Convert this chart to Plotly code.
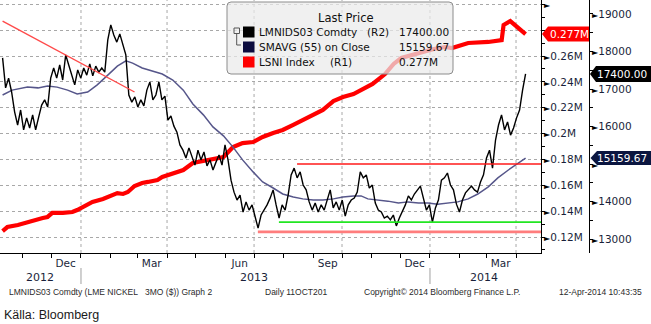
import plotly.graph_objects as go
import pandas as pd

# ---------------- data ----------------
price_first_day = "2012-10-11"
price_last_day = "2014-04-11"
# LMNIDS03 Comdty, read every ~3 days (high / low of the daily bars alternately)
price_close = [
    17830, 17030, 17290, 16920, 16390, 16040, 16440, 15910, 16230, 15960,
    16310, 15910, 16250, 16570, 16710, 16520, 17290, 17560, 17290, 17640,
    17240, 17910, 17640, 17370, 17110, 17510, 17290, 17560, 17370, 17670,
    17350, 17610, 17450, 17560, 17450, 18310, 18710, 18440, 18250, 18470,
    18200, 17910, 16840, 16650, 16790, 16520, 16710, 16550, 16970, 17190,
    16710, 16840, 17190, 16710, 16810, 16170, 16280, 16010, 15850, 15510,
    15370, 15160, 15430, 15210, 14970, 15370, 15110, 15320, 14950, 15110,
    14840, 15050, 15240, 14970, 15510, 15110, 14570, 14250, 14040, 14170,
    13720, 13990, 13770, 13910, 13560, 13290, 13640, 13770, 13910, 14090,
    14310, 13910, 13560, 13910, 13770, 14170, 14710, 14890, 14630, 14790,
    14440, 14310, 13990, 13770, 13960, 13720, 13910, 13770, 14040, 14310,
    13830, 13990, 13770, 14040, 13610, 13910, 14040, 14090, 14250, 14790,
    14630, 14710, 14360, 14440, 13960, 13770, 13720, 13560, 13610, 13510,
    13640, 13350, 13560, 13720, 13910, 14150, 14040, 14200, 14310, 14410,
    14090, 13770, 13910, 13450, 13830, 14040, 14570, 14630, 14760, 14440,
    14310, 13930, 13720, 14040, 14230, 14310, 14410, 14310, 14250, 14520,
    14710, 15160, 15370, 14890, 15640, 16040, 16310, 15910, 16120, 15770,
    15960, 16230, 16440, 16970, 17400,
]

ma_dates = [
    "2012-10-11", "2012-10-21", "2012-11-06", "2012-11-17", "2012-11-27",
    "2012-12-07", "2012-12-18", "2012-12-28", "2013-01-08", "2013-01-18",
    "2013-01-29", "2013-02-08", "2013-02-17", "2013-02-24", "2013-03-06",
    "2013-03-17", "2013-03-27", "2013-04-07", "2013-04-18", "2013-04-28",
    "2013-05-09", "2013-05-19", "2013-05-30", "2013-06-09", "2013-06-19",
    "2013-06-30", "2013-07-10", "2013-07-21", "2013-07-31", "2013-08-11",
    "2013-08-21", "2013-09-01", "2013-09-11", "2013-09-22", "2013-10-02",
    "2013-10-13", "2013-10-21", "2013-10-28", "2013-11-08", "2013-11-18",
    "2013-11-29", "2013-12-09", "2013-12-20", "2013-12-30", "2014-01-09",
    "2014-01-20", "2014-01-30", "2014-02-10", "2014-02-20", "2014-03-03",
    "2014-03-13", "2014-03-24", "2014-04-03", "2014-04-11",
]
ma_values = [
    16840, 16970, 17050, 17030, 17080, 17050, 16970, 16870, 16920, 17110,
    17370, 17610, 17750, 17690, 17560, 17480, 17400, 17240, 16970, 16600,
    16310, 15990, 15750, 15450, 15110, 14790, 14520, 14360, 14200, 14120,
    14070, 14040, 14040, 14070, 14120, 14150, 14150, 14070, 14040, 14010,
    13960, 13990, 13960, 13960, 13930, 13960, 13990, 14070, 14200, 14390,
    14630, 14840, 15030, 15159.67,
]

lsni_dates = [
    "2012-10-11", "2012-10-16", "2012-10-27", "2012-11-06", "2012-11-13",
    "2012-11-22", "2012-11-27", "2012-12-02", "2012-12-13", "2012-12-23",
    "2012-12-28", "2013-01-03", "2013-01-13", "2013-01-24", "2013-02-03",
    "2013-02-08", "2013-02-14", "2013-02-19", "2013-02-26", "2013-03-06",
    "2013-03-12", "2013-03-22", "2013-03-27", "2013-04-07", "2013-04-18",
    "2013-04-28", "2013-05-09", "2013-05-19", "2013-05-30", "2013-06-09",
    "2013-06-19", "2013-06-30", "2013-07-10", "2013-07-21", "2013-07-31",
    "2013-08-11", "2013-08-21", "2013-09-01", "2013-09-11", "2013-09-22",
    "2013-10-02", "2013-10-13", "2013-10-23", "2013-11-02", "2013-11-15",
    "2013-11-24", "2013-12-02", "2013-12-20", "2014-01-05", "2014-01-17",
    "2014-01-24", "2014-02-10", "2014-03-03", "2014-03-17", "2014-03-19",
    "2014-03-26", "2014-03-31", "2014-04-05", "2014-04-11",
]
lsni_values = [
    0.1246, 0.1277, 0.1293, 0.1316, 0.1332, 0.1347, 0.1355, 0.1386, 0.1386, 0.1393,
    0.1409, 0.1432, 0.1471, 0.1494, 0.1525, 0.1540, 0.1533, 0.1548, 0.1595, 0.1618,
    0.1626, 0.1641, 0.1664, 0.1695, 0.1718, 0.1773, 0.1788, 0.1803, 0.1819, 0.1896,
    0.1927, 0.1935, 0.1974, 0.2005, 0.2028, 0.2067, 0.2105, 0.2144, 0.2183, 0.2252,
    0.2283, 0.2306, 0.2345, 0.2384, 0.2461, 0.2539, 0.2585, 0.2624, 0.2655, 0.2670,
    0.2662, 0.2701, 0.2709, 0.2724, 0.2840, 0.2871, 0.2840, 0.2809, 0.277,
]

trend_dates = ["2012-10-11", "2013-02-26"]
trend_values = [18810, 16920]
level_starts = ["2013-08-15", "2013-07-27", "2013-07-05"]
level_values = [15000, 13450, 13190]
level_colors = ["#ff1a1a", "#22e622", "#ff7d7d"]
level_widths = [1.5, 1.6, 2.6]

x_range = ["2012-10-08 07:00", "2014-04-27 03:00"]
month_tick_dates = ["2012-12-16", "2013-03-16", "2013-06-16", "2013-09-16", "2013-12-16", "2014-03-16"]
month_tick_text = ["Dec", "Mar", "Jun", "Sep", "Dec", "Mar"]
year_label_dates = ["2012-11-19", "2013-07-01", "2014-02-27"]
year_label_text = ["2012", "2013", "2014"]
year_break_dates = ["2013-01-01", "2014-01-01"]
grid_dates = ["2013-01-01", "2013-04-01", "2013-07-01", "2013-10-01", "2014-01-01", "2014-04-01"]

lsni_range = [0.10762, 0.30337]
lsni_ticks = [0.12, 0.14, 0.16, 0.18, 0.20, 0.22, 0.24, 0.26, 0.28, 0.30]
lsni_tick_text = ["0.12M", "0.14M", "0.16M", "0.18M", "0.2M", "0.22M", "0.24M", "0.26M", None, ""]
price_range = [12627, 19373]
price_ticks = [13000, 14000, 15000, 16000, 17000, 18000, 19000]
# the 15000 label sits behind the SMAVG value tag in the reference
price_tick_text = ["13000", "14000", "", "16000", "17000", "18000", "19000"]

# ---------------- layout helpers ----------------
W, H = 651, 324
PLOT_B = 253  # bottom of plot area in px


def PX(x):
    return x / W


def PY(y):
    return (PLOT_B - y) / PLOT_B


FONT = "DejaVu Sans, Verdana, sans-serif"
FOOT = "Liberation Sans, Arial, sans-serif"
TXT = "#1a1f3a"
ARROW = '<span style="font-size:8px;color:#000">►</span>'


def tick_label(t):
    if t is None:
        return ""
    return ARROW + t


price_dates = pd.date_range(price_first_day, price_last_day, periods=len(price_close))

fig = go.Figure()

fig.add_trace(go.Scatter(x=lsni_dates, y=lsni_values, mode="lines", yaxis="y",
                         line=dict(color="#ff0000", width=4.2), hoverinfo="skip"))
fig.add_trace(go.Scatter(x=ma_dates, y=ma_values, mode="lines", yaxis="y2",
                         line=dict(color="#56568a", width=1.5), hoverinfo="skip"))
fig.add_trace(go.Scatter(x=price_dates, y=price_close, mode="lines", yaxis="y2",
                         line=dict(color="#000000", width=1.4), hoverinfo="skip"))
fig.add_trace(go.Scatter(x=trend_dates, y=trend_values, mode="lines", yaxis="y2",
                         line=dict(color="#ff4a4a", width=1.4), hoverinfo="skip"))
for d, v, c, w in zip(level_starts, level_values, level_colors, level_widths):
    fig.add_trace(go.Scatter(x=[d, x_range[1]], y=[v, v], mode="lines", yaxis="y2",
                             line=dict(color=c, width=w), hoverinfo="skip"))

shapes = []
# vertical dotted gridlines
for d in grid_dates:
    shapes.append(dict(type="line", xref="x", yref="paper", x0=d, x1=d, y0=0, y1=1,
                       line=dict(color="#a8a8a8", width=1, dash="dot"), layer="below"))
# year separators under the axis
for d in year_break_dates:
    shapes.append(dict(type="line", xref="x", yref="paper", x0=d, x1=d,
                       y0=PY(268), y1=PY(284), line=dict(color="#a0a0a0", width=1)))


def rounded_rect(x0, y0, x1, y1, r):
    return (f"M {PX(x0 + r)},{PY(y0)} L {PX(x1 - r)},{PY(y0)} Q {PX(x1)},{PY(y0)} {PX(x1)},{PY(y0 + r)} "
            f"L {PX(x1)},{PY(y1 - r)} Q {PX(x1)},{PY(y1)} {PX(x1 - r)},{PY(y1)} "
            f"L {PX(x0 + r)},{PY(y1)} Q {PX(x0)},{PY(y1)} {PX(x0)},{PY(y1 - r)} "
            f"L {PX(x0)},{PY(y0 + r)} Q {PX(x0)},{PY(y0)} {PX(x0 + r)},{PY(y0)} Z")


# legend box
shapes.append(dict(type="path", xref="paper", yref="paper", path=rounded_rect(227, 2, 453, 74, 4),
                   fillcolor="rgba(234,234,234,0.72)", line=dict(color="#8c8c8c", width=1),
                   layer="above"))
# legend colour squares
for yy, col in [(32, "#000000"), (47, "#0b0b3e"), (62, "#ff0000")]:
    shapes.append(dict(type="rect", xref="paper", yref="paper", x0=PX(243), x1=PX(254.5),
                       y0=PY(yy + 5.5), y1=PY(yy - 5.5), fillcolor=col, line=dict(width=0),
                       layer="above"))
# small tree icon
shapes.append(dict(type="rect", xref="paper", yref="paper", x0=PX(234), x1=PX(239.5),
                   y0=PY(33.5), y1=PY(28), line=dict(color="#555", width=1), layer="above"))
shapes.append(dict(type="path", xref="paper", yref="paper",
                   path=f"M {PX(236.7)},{PY(33.5)} L {PX(236.7)},{PY(45)} L {PX(241)},{PY(45)}",
                   line=dict(color="#555", width=1), layer="above"))


def tag(yref, val, half, x_tip, x_body, x_right, color):
    return dict(type="path", xref="paper", yref=yref,
                path=(f"M {PX(x_tip)},{val} L {PX(x_body)},{val + half} L {PX(x_right)},{val + half} "
                      f"L {PX(x_right)},{val - half} L {PX(x_body)},{val - half} Z"),
                fillcolor=color, line=dict(width=0), layer="above")


lsni_last = lsni_values[-1]
price_last = price_close[-1]
ma_last = ma_values[-1]
lsni_px = (lsni_range[1] - lsni_range[0]) / PLOT_B
price_pxu = (price_range[1] - price_range[0]) / PLOT_B
shapes.append(tag("y", lsni_last, 7.5 * lsni_px, 542, 548, 589, "#ff0000"))
shapes.append(tag("y2", price_last, 8 * price_pxu, 590, 596, 651, "#000000"))
shapes.append(tag("y2", ma_last, 7 * price_pxu, 590.5, 597, 651, "#0b1640"))

annotations = []
# year labels
for d, t in zip(year_label_dates, year_label_text):
    annotations.append(dict(x=d, xref="x", y=PY(277), yref="paper", text=t, showarrow=False,
                            font=dict(family=FONT, size=11, color=TXT), xanchor="center",
                            yanchor="middle"))
# legend texts
leg_font = dict(family=FONT, size=10.5, color="#111111")
annotations.append(dict(x=PX(346), y=PY(18), xref="paper", yref="paper", text="Last Price",
                        showarrow=False, font=dict(family=FONT, size=11.5, color="#111111"),
                        xanchor="center", yanchor="middle"))
rows = [
    (32, "LMNIDS03 Comdty", "(R2)", 365, f"{price_last:.2f}"),
    (47, "SMAVG (55) on Close", "", 0, f"{ma_last:.2f}"),
    (62, "LSNI Index", "(R1)", 328, f"{lsni_last:.3f}M"),
]
for yy, name, ax, xa, val in rows:
    annotations.append(dict(x=PX(257), y=PY(yy), xref="paper", yref="paper", text=name,
                            showarrow=False, font=leg_font, xanchor="left", yanchor="middle"))
    if ax:
        annotations.append(dict(x=PX(xa), y=PY(yy), xref="paper", yref="paper", text=ax,
                                showarrow=False, font=leg_font, xanchor="left", yanchor="middle"))
    annotations.append(dict(x=PX(397), y=PY(yy), xref="paper", yref="paper", text=val,
                            showarrow=False, font=leg_font, xanchor="left", yanchor="middle"))
# value tags text
tag_font = dict(family=FONT, size=10.5, color="white")
annotations.append(dict(x=PX(569), y=lsni_last, xref="paper", yref="y", text=f"{lsni_last:.3f}M",
                        showarrow=False, font=tag_font, xanchor="center", yanchor="middle"))
annotations.append(dict(x=PX(622), y=price_last, xref="paper", yref="y2", text=f"{price_last:.2f}",
                        showarrow=False, font=tag_font, xanchor="center", yanchor="middle"))
annotations.append(dict(x=PX(622), y=ma_last, xref="paper", yref="y2", text=f"{ma_last:.2f}",
                        showarrow=False, font=tag_font, xanchor="center", yanchor="middle"))
# footer
foot_font = dict(family=FOOT, size=8.5, color="#2a2a2a")
for xx, t in [(7, "LMNIDS03 Comdty (LME NICKEL\u00a0\u00a0\u00a03MO ($)) Graph 2"),
              (263, "Daily 11OCT201"),
              (362, "Copyright\u00a9 2014 Bloomberg Finance L.P."),
              (557, "12-Apr-2014 10:43:35")]:
    annotations.append(dict(x=PX(xx), y=PY(292), xref="paper", yref="paper", text=t,
                            showarrow=False, font=foot_font, xanchor="left", yanchor="middle"))
annotations.append(dict(x=PX(2), y=PY(315), xref="paper", yref="paper", text="Källa: Bloomberg",
                        showarrow=False, font=dict(family=FOOT, size=12.5, color="#1a1a1a"),
                        xanchor="left", yanchor="middle"))

fig.update_layout(
    width=W, height=H,
    margin=dict(l=0, r=0, t=0, b=H - PLOT_B, pad=0),
    paper_bgcolor="white", plot_bgcolor="white",
    showlegend=False,
    shapes=shapes, annotations=annotations,
    xaxis=dict(
        type="date", range=x_range, domain=[0, PX(541)], automargin=False,
        showgrid=False, zeroline=False, showline=True, linecolor="black", linewidth=1,
        tickmode="array", tickvals=month_tick_dates, ticktext=month_tick_text, ticks="",
        tickfont=dict(family=FONT, size=10.5, color=TXT),
        minor=dict(ticks="outside", ticklen=4, tickcolor="black", dtick="M1",
                   tick0="2012-11-01", showgrid=False),
    ),
    yaxis=dict(
        range=lsni_range, side="right", anchor="x", automargin=False,
        showgrid=True, gridcolor="#a8a8a8", griddash="dot", gridwidth=1, zeroline=False,
        showline=True, linecolor="black", linewidth=1,
        tickmode="array", tickvals=lsni_ticks,
        ticktext=[tick_label(t) for t in lsni_tick_text], ticks="",
        ticklabelstandoff=0,
        tickfont=dict(family=FONT, size=10.5, color=TXT),
        minor=dict(ticks="outside", ticklen=3, tickcolor="black", dtick=0.01, tick0=0.11,
                   showgrid=False),
    ),
    yaxis2=dict(
        range=price_range, side="right", overlaying="y", anchor="free", position=PX(589),
        automargin=False, showgrid=False, zeroline=False,
        showline=True, linecolor="black", linewidth=1,
        tickmode="array", tickvals=price_ticks,
        ticktext=[tick_label(t) for t in price_tick_text], ticks="",
        ticklabelstandoff=0,
        tickfont=dict(family=FONT, size=10.5, color=TXT),
        minor=dict(ticks="outside", ticklen=3, tickcolor="black", dtick=500, tick0=12500,
                   showgrid=False),
    ),
)

fig.write_html("out.html")
